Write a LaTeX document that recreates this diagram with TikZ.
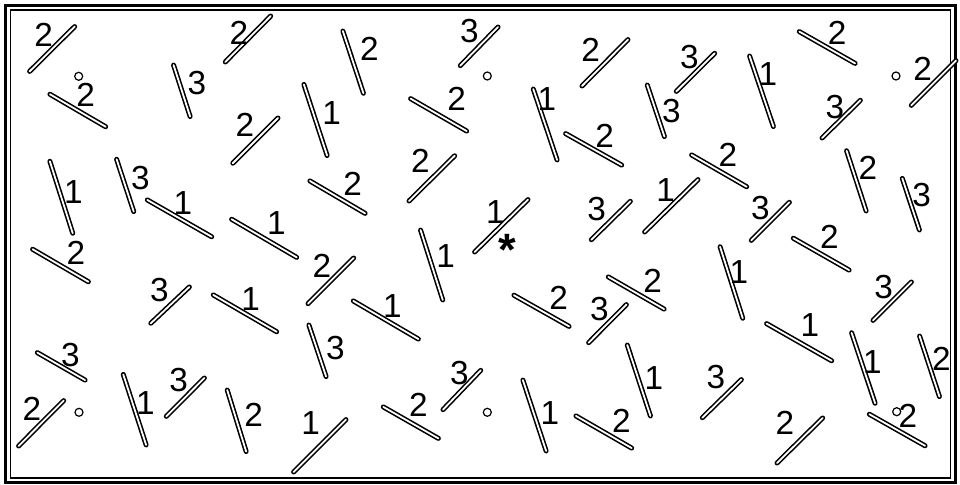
\documentclass[tikz,border=0pt]{standalone}
\usepackage{fontspec}
\setmainfont{Liberation Sans}
\tikzset{
  segline/.style={line width=1.2pt, double=white, double distance=1.35pt, line cap=round, shorten >=1.4pt, shorten <=1.4pt},
  numlab/.style={inner sep=0pt, font=\fontsize{25}{25}\selectfont},
  ring/.style={line width=0.9pt},
  outerframe/.style={line width=2.6pt},
  innerframe/.style={line width=1.1pt},
}
\newcommand\mkseg[8]{\draw[segline] (#2,#3) -- (#4,#5); \node[numlab] (#1) at (#6,#7) {#8};}
\begin{document}
\begin{tikzpicture}[x=0.75pt,y=-0.75pt]
\useasboundingbox (0,0) rectangle (960,485);
\fill[white] (0,0) rectangle (960,485);
% frame
\draw[outerframe] (5.5,5.5) rectangle (955.5,482.5);
\draw[innerframe] (10.5,10) rectangle (950.5,478);
% segments with labels
\mkseg{A}{28.3}{72.7}{76}{25.3}{43.7}{35.3}{2}
\mkseg{B}{48.3}{93.3}{107.3}{127.7}{85.7}{94.7}{2}
\mkseg{C}{173}{63.3}{190.7}{118.3}{197}{83}{3}
\mkseg{D}{224}{63.3}{272}{14.7}{239}{33}{2}
\mkseg{E}{342.3}{29.3}{364}{95}{369.3}{48.7}{2}
\mkseg{F}{303.3}{82.7}{327.7}{157.3}{331.7}{112.7}{1}
\mkseg{G}{409}{97.7}{468.3}{132}{456.7}{99}{2}
\mkseg{H}{459}{67}{499.3}{25.7}{469.3}{31.3}{3}
\mkseg{DD}{231.5}{164.5}{279.3}{116.7}{245}{125}{2}
\mkseg{Z}{407.7}{202.3}{456}{154.5}{420.5}{161}{2}
\mkseg{I}{580.7}{87.3}{629.3}{38.3}{590.7}{50.3}{2}
\mkseg{J}{675}{92.7}{716}{52}{689.3}{56.7}{3}
\mkseg{K}{646.7}{83.3}{665}{138.3}{671.3}{111.3}{3}
\mkseg{L}{532.7}{87.3}{557.7}{161.7}{547}{98.7}{1}
\mkseg{M}{564}{132.7}{623.3}{166}{604.7}{136.3}{2}
\mkseg{MM}{690}{154}{748.3}{187.7}{728}{155}{2}
\mkseg{N}{797.7}{30.7}{856.7}{64.3}{837.2}{33}{2}
\mkseg{O}{749}{54.3}{774}{128.3}{768}{74}{1}
\mkseg{P}{910}{106.7}{957.3}{59.3}{922.7}{69.3}{2}
\mkseg{Q}{820.7}{139.3}{861.7}{99}{835}{106.7}{3}
\mkseg{R}{846}{149}{866.7}{212.7}{868}{168}{2}
\mkseg{S}{49.3}{159.5}{73.3}{235}{73.3}{191.7}{1}
\mkseg{T}{116}{157.5}{134.3}{213.3}{140.3}{177.7}{3}
\mkseg{U}{145.7}{199}{213.3}{237.7}{183}{202.7}{1}
\mkseg{V}{31}{248.3}{90}{282.7}{76}{253.3}{2}
\mkseg{W}{149.5}{324.5}{190.7}{285.7}{159.3}{290.3}{3}
\mkseg{X}{211.7}{294}{278.3}{332.7}{250.7}{299.3}{1}
\mkseg{Y}{308.3}{180}{366.7}{214.3}{352.7}{184}{2}
\mkseg{AA}{230}{218.3}{298.3}{258.3}{276.3}{222.7}{1}
\mkseg{AB}{306.7}{305}{355}{256.7}{322}{266}{2}
\mkseg{AC}{420}{228.3}{443.3}{301.7}{445.7}{256}{1}
\mkseg{AD}{351.7}{300}{420}{340}{392.3}{305.7}{1}
\mkseg{AE}{473.3}{253.3}{529.3}{198.3}{495.3}{212}{1}
\mkseg{AF}{590}{241}{631.7}{200}{596.7}{209.3}{3}
\mkseg{AG}{643.3}{233.3}{699.3}{178.3}{665.7}{190.3}{1}
\mkseg{AH}{512.3}{294.3}{570.7}{327.3}{558.7}{298}{2}
\mkseg{AI}{606.7}{276}{665.7}{310}{652.7}{281}{2}
\mkseg{AJ}{587.3}{344}{627.7}{303.3}{599.3}{309}{3}
\mkseg{AK}{901.7}{176.7}{920}{231.7}{921.7}{194.7}{3}
\mkseg{AL}{750}{241.7}{790.7}{201}{760.3}{208.3}{3}
\mkseg{AM}{791.7}{237.3}{850.7}{271}{829.3}{236.7}{2}
\mkseg{AN}{719.5}{245}{743.3}{320}{739}{271.7}{1}
\mkseg{AO}{871.7}{321.7}{912.7}{280.7}{883.7}{286.7}{3}
\mkseg{AP}{765}{322.7}{833.3}{361.7}{810}{325}{1}
\mkseg{AQ}{35.7}{351.7}{86.7}{381}{70.3}{355.3}{3}
\mkseg{AR}{17.3}{447.3}{65}{399.3}{32}{408.7}{2}
\mkseg{AS}{122.7}{372.7}{146.7}{446.7}{145.3}{402.7}{1}
\mkseg{AT}{165}{417.7}{205.7}{376.7}{178.7}{380.3}{3}
\mkseg{AU}{226.7}{388.3}{246.7}{453.3}{253.7}{415}{2}
\mkseg{AV}{308.3}{323.3}{326.7}{378.3}{335.3}{347.7}{3}
\mkseg{AW}{292.3}{473.3}{347.3}{418.3}{310.7}{422.7}{1}
\mkseg{AX}{381.7}{406}{440}{439.3}{418.3}{405.3}{2}
\mkseg{AY}{441.7}{411}{482}{369}{459.3}{373}{3}
\mkseg{AZ}{522.3}{378.3}{546.7}{452.7}{550}{412.7}{1}
\mkseg{BA}{574.3}{415}{633.3}{449}{621.3}{421}{2}
\mkseg{BB}{626.7}{343.3}{651}{417.7}{654}{377.7}{1}
\mkseg{BC}{701}{419}{742.7}{378.3}{716}{377}{3}
\mkseg{BD}{775.7}{464.3}{824}{416.7}{785}{423}{2}
\mkseg{BE}{851}{331}{875.7}{405}{872.3}{361.7}{1}
\mkseg{BF}{919}{334.3}{940}{398.3}{941.3}{359}{2}
\mkseg{BG}{867.7}{413.3}{926.7}{446.7}{908}{415.7}{2}
% star
\node[inner sep=0pt, anchor=base, font=\fontsize{34}{34}\selectfont\bfseries] (star) at (507,265) {*};
% small rings
\draw[ring] (78.7,76.3) circle[radius=4];
\draw[ring] (487.3,76) circle[radius=4];
\draw[ring] (896,76) circle[radius=4];
\draw[ring] (79,412.3) circle[radius=4];
\draw[ring] (487.3,412.3) circle[radius=4];
\draw[ring] (896.7,411.7) circle[radius=4];
\end{tikzpicture}
\end{document}
